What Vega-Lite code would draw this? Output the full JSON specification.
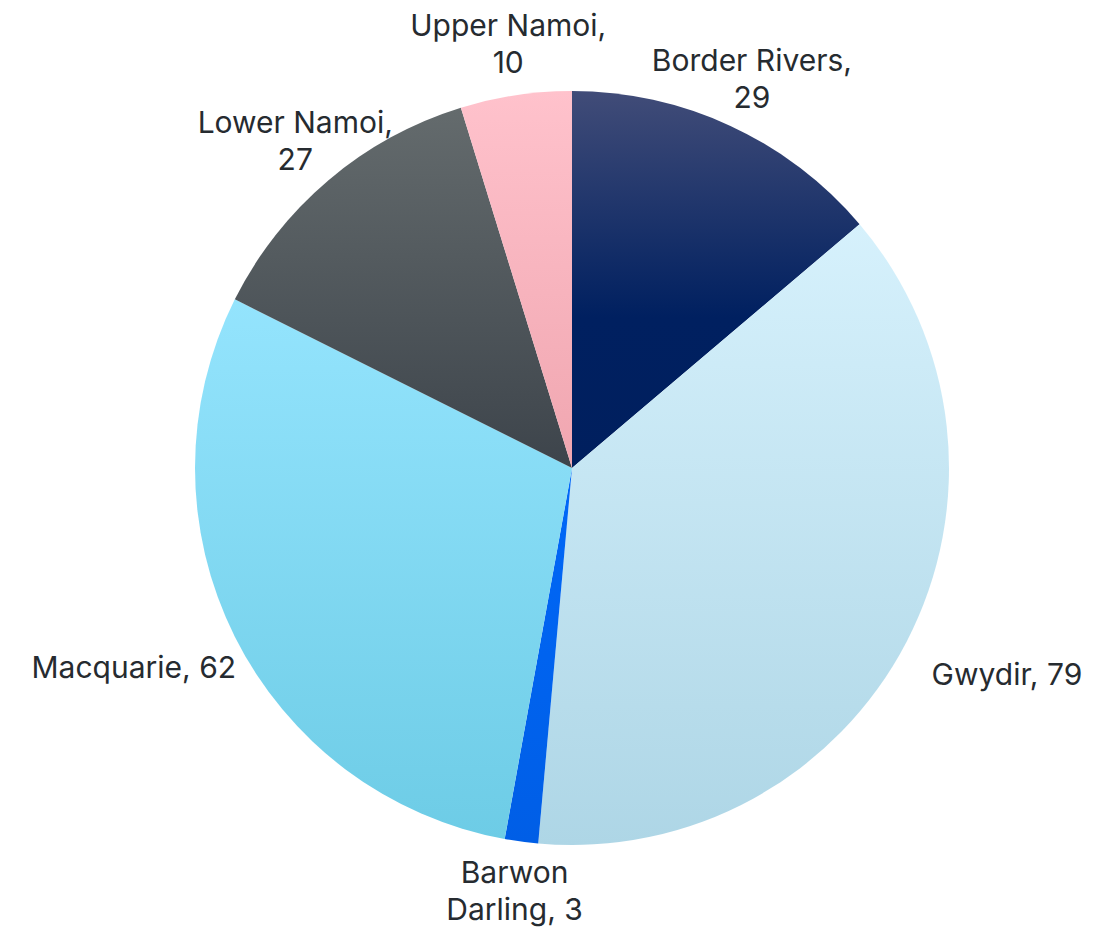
{
  "$schema": "https://vega.github.io/schema/vega-lite/v6.json",
  "width": 754,
  "height": 754,
  "autosize": "none",
  "padding": {"left": 195, "top": 91, "right": 148, "bottom": 84},
  "background": "white",
  "view": {"stroke": null},
  "data": {
    "values": [
      {"order": 1, "region": "Border Rivers", "value": 29, "label": "Border Rivers,\n29"},
      {"order": 2, "region": "Gwydir", "value": 79, "label": "Gwydir, 79"},
      {"order": 3, "region": "Barwon Darling", "value": 3, "label": "Barwon\nDarling, 3"},
      {"order": 4, "region": "Macquarie", "value": 62, "label": "Macquarie, 62"},
      {"order": 5, "region": "Lower Namoi", "value": 27, "label": "Lower Namoi,\n27"},
      {"order": 6, "region": "Upper Namoi", "value": 10, "label": "Upper Namoi,\n10"}
    ]
  },
  "transform": [
    {"stack": "value", "groupby": [], "sort": [{"field": "order", "order": "ascending"}], "as": ["v0", "v1"]}
  ],
  "layer": [
    {
      "mark": {"type": "arc"},
      "encoding": {
        "theta": {"field": "v0", "type": "quantitative", "stack": null, "scale": {"type": "linear", "domain": [0, 210], "nice": false, "zero": true}},
        "theta2": {"field": "v1"},
        "fill": {
          "condition": [
            {"test": "datum.region === 'Border Rivers'", "value": {"gradient": "linear", "x1": 0, "y1": 0, "x2": 0, "y2": 1, "stops": [{"offset": 0, "color": "#414c78"}, {"offset": 0.6, "color": "#002060"}, {"offset": 1, "color": "#001f5e"}]}},
            {"test": "datum.region === 'Gwydir'", "value": {"gradient": "linear", "x1": 0, "y1": 0, "x2": 0, "y2": 1, "stops": [{"offset": 0, "color": "#d6f1fc"}, {"offset": 1, "color": "#aed6e6"}]}},
            {"test": "datum.region === 'Barwon Darling'", "value": {"gradient": "linear", "x1": 0, "y1": 0, "x2": 0, "y2": 1, "stops": [{"offset": 0, "color": "#0068f8"}, {"offset": 1, "color": "#005ee6"}]}},
            {"test": "datum.region === 'Macquarie'", "value": {"gradient": "linear", "x1": 0, "y1": 0, "x2": 0, "y2": 1, "stops": [{"offset": 0, "color": "#94e4fd"}, {"offset": 1, "color": "#6dcce6"}]}},
            {"test": "datum.region === 'Lower Namoi'", "value": {"gradient": "linear", "x1": 0, "y1": 0, "x2": 0, "y2": 1, "stops": [{"offset": 0, "color": "#646b6d"}, {"offset": 1, "color": "#3d444b"}]}},
            {"test": "datum.region === 'Upper Namoi'", "value": {"gradient": "linear", "x1": 0, "y1": 0, "x2": 0, "y2": 1, "stops": [{"offset": 0, "color": "#ffc2cc"}, {"offset": 1, "color": "#f0a6b0"}]}}
          ],
          "value": "#cccccc"
        }
      }
    },
    {
      "transform": [
        {"calculate": "(datum.v0 + datum.v1) / 2", "as": "mid"},
        {"calculate": "indexof(datum.label, '\\n') < 0 ? 1 : 2", "as": "lines"}
      ],
      "mark": {"type": "text", "font": "Inter", "fontSize": 30, "color": "#262b30", "lineBreak": "\n", "lineHeight": 37, "dy": -18},
      "encoding": {
        "theta": {"field": "mid", "type": "quantitative", "stack": null, "scale": {"type": "linear", "domain": [0, 210], "nice": false, "zero": true}},
        "text": {"field": "label", "type": "nominal"},
        "radius": {
          "field": "lines",
          "type": "quantitative",
          "scale": {"type": "linear", "domain": [1, 2], "range": [490, 428], "zero": false}
        }
      }
    }
  ]
}
